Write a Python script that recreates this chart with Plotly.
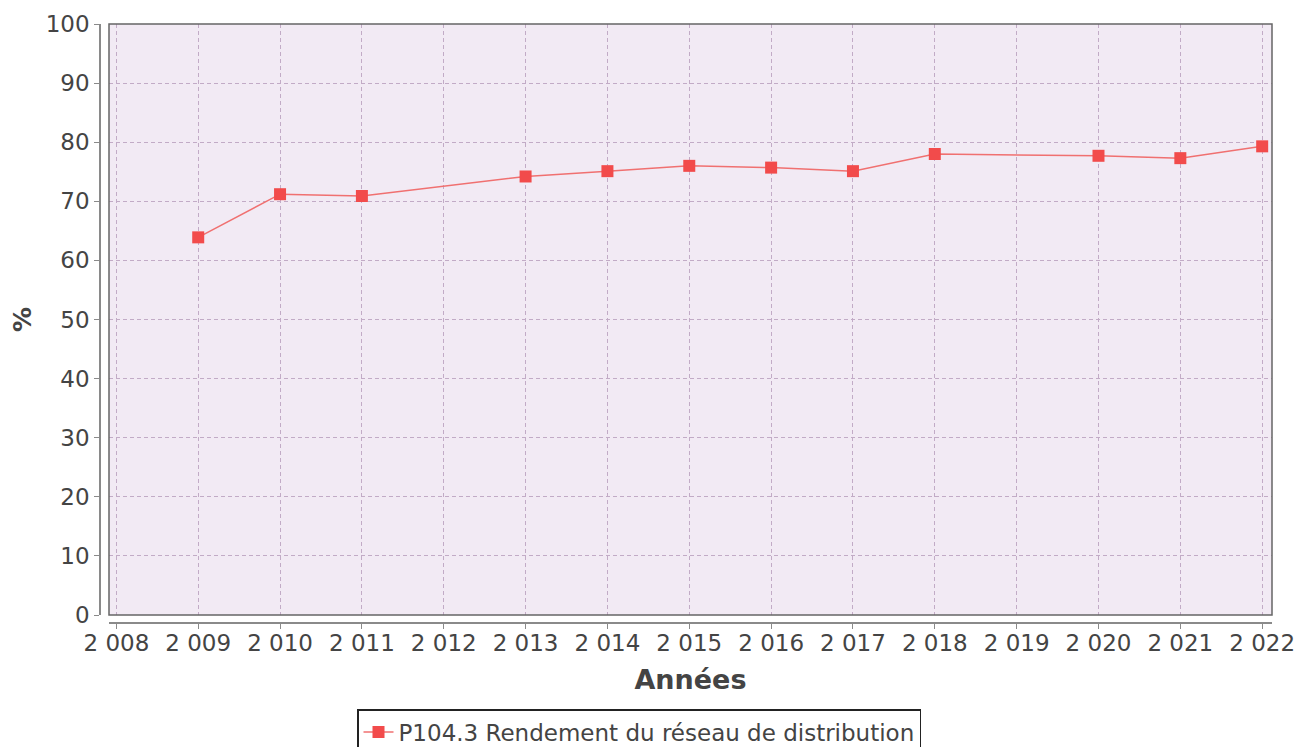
import plotly.graph_objects as go

years = [2009, 2010, 2011, 2013, 2014, 2015, 2016, 2017, 2018, 2020, 2021, 2022]
rendement = [63.9, 71.2, 70.9, 74.2, 75.1, 76.0, 75.7, 75.1, 78.0, 77.7, 77.3, 79.3]
tick_years = list(range(2008, 2023))
tick_labels = ["2 " + str(y)[1:] for y in tick_years]
y_ticks = list(range(0, 101, 10))

W, H = 1309, 747
# page body has an 8px margin: figure pixel = image pixel - 8
ml, mr, mt, mb = 92, 45, 16, 132
pw = W - ml - mr
ph = H - mt - mb
off_x = 9
off_y = 8

fig = go.Figure()
fig.add_trace(go.Scatter(
    x=years, y=rendement, mode="lines+markers",
    name="P104.3 Rendement du réseau de distribution",
    line=dict(color="#F07070", width=1.5),
    marker=dict(symbol="square", size=12, color="#F24B4B", line=dict(width=0)),
))

font = "DejaVu Sans, Verdana, sans-serif"
grid = "#C2ABC6"
fig.update_layout(
    width=W, height=H,
    margin=dict(l=ml, r=mr, t=mt, b=mb, autoexpand=False),
    paper_bgcolor="white",
    plot_bgcolor="#F2EAF4",
    font=dict(family=font, size=23, color="#444444"),
    showlegend=True,
    legend=dict(
        orientation="h", x=(631 - ml) / pw, xanchor="center",
        y=-(701 - (H - mb)) / ph, yanchor="top",
        bordercolor="#222222", borderwidth=1.5, bgcolor="white",
        font=dict(family=font, size=23, color="#444444"),
        itemwidth=30,
    ),
    xaxis=dict(
        domain=[off_x / pw, 1], range=[2007.91, 2022.12],
        anchor="free", position=0,
        tickvals=tick_years, ticktext=tick_labels,
        showline=True, linecolor="#8a8a8a", linewidth=1.5,
        ticks="outside", ticklen=5, tickcolor="#8a8a8a",
        ticklabelstandoff=-5,
        showgrid=True, gridcolor=grid, griddash="4px,3px", gridwidth=1,
        zeroline=False,
        tickfont=dict(size=23, color="#444444"),
        title=dict(text="<b>Années</b>", font=dict(size=27, color="#444444"), standoff=14),
    ),
    yaxis=dict(
        domain=[off_y / ph, 1], range=[0, 100],
        anchor="free", position=0,
        tickvals=y_ticks,
        showline=True, linecolor="#8a8a8a", linewidth=1.5,
        ticks="outside", ticklen=5, tickcolor="#8a8a8a",
        showgrid=True, gridcolor=grid, griddash="4px,3px", gridwidth=1,
        zeroline=False,
        tickfont=dict(size=23, color="#444444"),
        title=dict(text="<b>%</b>", font=dict(size=25, color="#444444"), standoff=16),
    ),
)
fig.add_shape(type="rect", xref="x domain", yref="y domain", x0=0, x1=1, y0=0, y1=1,
              line=dict(color="#666666", width=1.5), fillcolor="rgba(0,0,0,0)", layer="above")
fig.write_html("out.html")
